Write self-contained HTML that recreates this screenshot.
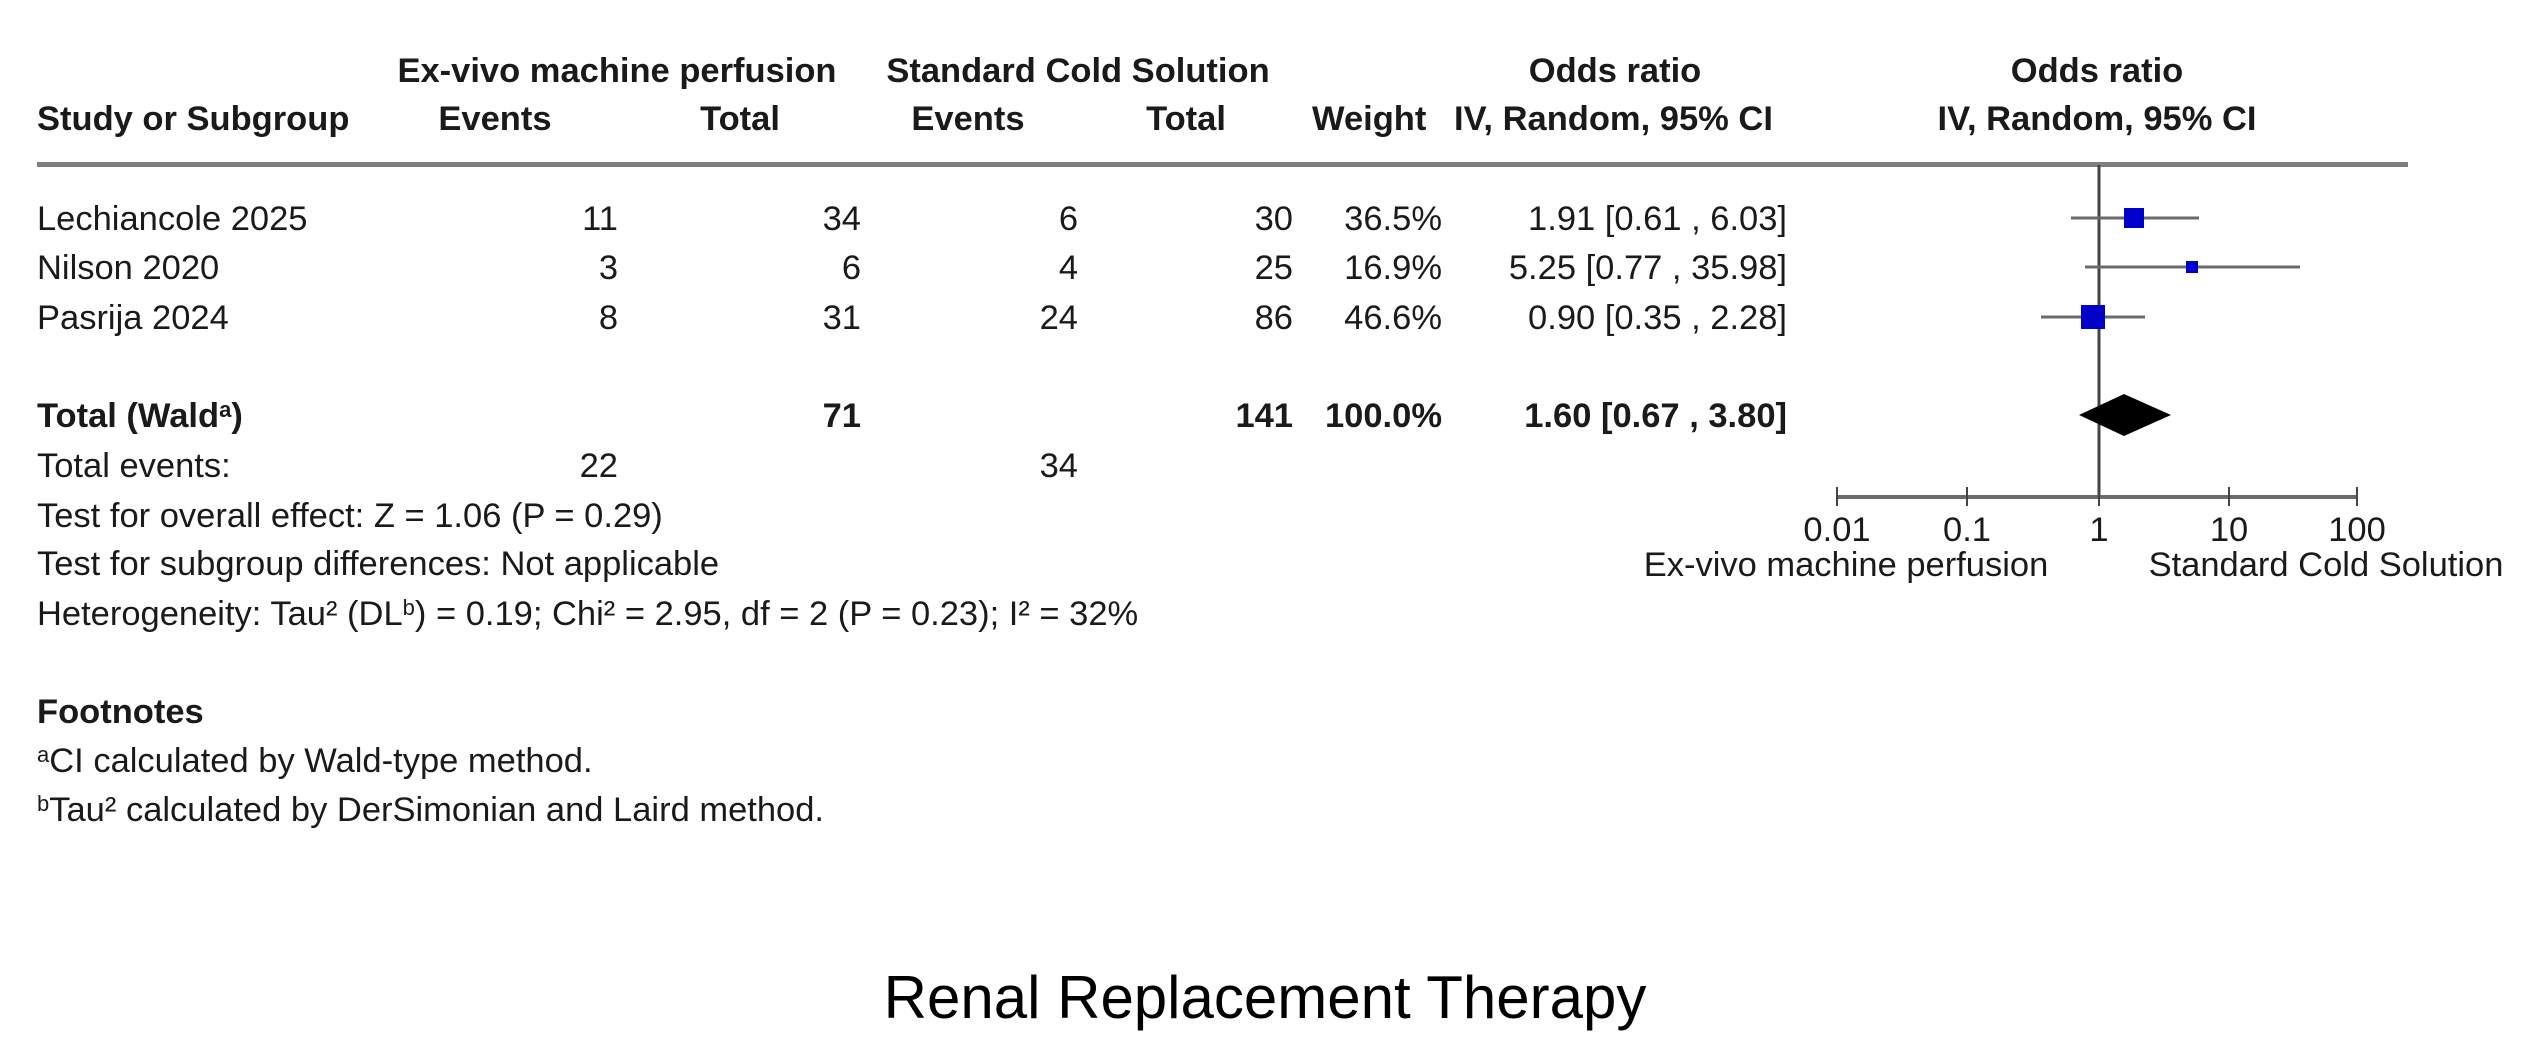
<!DOCTYPE html>
<html><head><meta charset="utf-8"><style>
html,body{margin:0;padding:0;background:#fff;}
svg{display:block;}
text{font-family:"Liberation Sans",Arial,sans-serif;font-size:34.5px;fill:#1a1a1a;}
.b{font-weight:bold;}
.e{text-anchor:end;}
.m{text-anchor:middle;}
</style></head><body>
<svg width="2530" height="1050" viewBox="0 0 2530 1050" xmlns="http://www.w3.org/2000/svg">
<text class="b m" x="617" y="82">Ex-vivo machine perfusion</text>
<text class="b m" x="1078" y="82">Standard Cold Solution</text>
<text class="b m" x="1615" y="82">Odds ratio</text>
<text class="b m" x="2097" y="82">Odds ratio</text>
<text class="b" x="37" y="130">Study or Subgroup</text>
<text class="b m" x="495" y="130">Events</text>
<text class="b m" x="740" y="130">Total</text>
<text class="b m" x="968" y="130">Events</text>
<text class="b m" x="1186" y="130">Total</text>
<text class="b" x="1312" y="130">Weight</text>
<text class="b" x="1454" y="130">IV, Random, 95% CI</text>
<text class="b m" x="2097" y="130">IV, Random, 95% CI</text>
<rect x="37" y="162" width="2371" height="5" fill="#7f7f7f"/>

<g>
<text x="37" y="230">Lechiancole 2025</text>
<text class="e" x="618" y="230">11</text><text class="e" x="861" y="230">34</text>
<text class="e" x="1078" y="230">6</text><text class="e" x="1293" y="230">30</text>
<text class="e" x="1442" y="230">36.5%</text><text class="e" x="1787" y="230">1.91 [0.61 , 6.03]</text>

<text x="37" y="279">Nilson 2020</text>
<text class="e" x="618" y="279">3</text><text class="e" x="861" y="279">6</text>
<text class="e" x="1078" y="279">4</text><text class="e" x="1293" y="279">25</text>
<text class="e" x="1442" y="279">16.9%</text><text class="e" x="1787" y="279">5.25 [0.77 , 35.98]</text>

<text x="37" y="329">Pasrija 2024</text>
<text class="e" x="618" y="329">8</text><text class="e" x="861" y="329">31</text>
<text class="e" x="1078" y="329">24</text><text class="e" x="1293" y="329">86</text>
<text class="e" x="1442" y="329">46.6%</text><text class="e" x="1787" y="329">0.90 [0.35 , 2.28]</text>

<text class="b" x="37" y="427">Total (Wald<tspan font-size="22" dy="-10">a</tspan><tspan dy="10">)</tspan></text>
<text class="b e" x="861" y="427">71</text>
<text class="b e" x="1293" y="427">141</text>
<text class="b e" x="1442" y="427">100.0%</text>
<text class="b e" x="1787" y="427">1.60 [0.67 , 3.80]</text>

<text x="37" y="477">Total events:</text>
<text class="e" x="618" y="477">22</text>
<text class="e" x="1078" y="477">34</text>
<text x="37" y="527">Test for overall effect: Z = 1.06 (P = 0.29)</text>
<text x="37" y="575">Test for subgroup differences: Not applicable</text>
<text x="37" y="625">Heterogeneity: Tau² (DL<tspan font-size="22" dy="-10">b</tspan><tspan dy="10">) = 0.19; Chi² = 2.95, df = 2 (P = 0.23); I² = 32%</tspan></text>
<text class="b" x="37" y="723">Footnotes</text>
<text x="37" y="772"><tspan font-size="22" dy="-10">a</tspan><tspan dy="10">CI calculated by Wald-type method.</tspan></text>
<text x="37" y="821"><tspan font-size="22" dy="-10">b</tspan><tspan dy="10">Tau² calculated by DerSimonian and Laird method.</tspan></text>
</g>

<line x1="2099" y1="165" x2="2099" y2="497" stroke="#444" stroke-width="3"/>
<line x1="2071" y1="218" x2="2199" y2="218" stroke="#6a6a6a" stroke-width="3"/>
<rect x="2124" y="208" width="20" height="20" fill="#0000c8"/>
<line x1="2085" y1="267" x2="2300" y2="267" stroke="#6a6a6a" stroke-width="3"/>
<rect x="2186" y="261" width="12" height="12" fill="#0000c8"/>
<line x1="2041" y1="317" x2="2145" y2="317" stroke="#6a6a6a" stroke-width="3"/>
<rect x="2081" y="305" width="24" height="24" fill="#0000c8"/>
<polygon points="2079,415 2124,394 2171,415 2124,436" fill="#000"/>
<line x1="1836" y1="497" x2="2358" y2="497" stroke="#6a6a6a" stroke-width="4"/>
<g stroke="#444" stroke-width="2">
<line x1="1837" y1="487" x2="1837" y2="506"/>
<line x1="1967" y1="487" x2="1967" y2="506"/>
<line x1="2099" y1="487" x2="2099" y2="506"/>
<line x1="2229" y1="487" x2="2229" y2="506"/>
<line x1="2357" y1="487" x2="2357" y2="506"/>
</g>
<text class="m" x="1837" y="541">0.01</text>
<text class="m" x="1967" y="541">0.1</text>
<text class="m" x="2099" y="541">1</text>
<text class="m" x="2229" y="541">10</text>
<text class="m" x="2357" y="541">100</text>
<text class="m" x="1846" y="576">Ex-vivo machine perfusion</text>
<text class="m" x="2326" y="576">Standard Cold Solution</text>

<text class="m" x="1265" y="1018" style="font-size:60px;fill:#000">Renal Replacement Therapy</text>
</svg>
</body></html>
